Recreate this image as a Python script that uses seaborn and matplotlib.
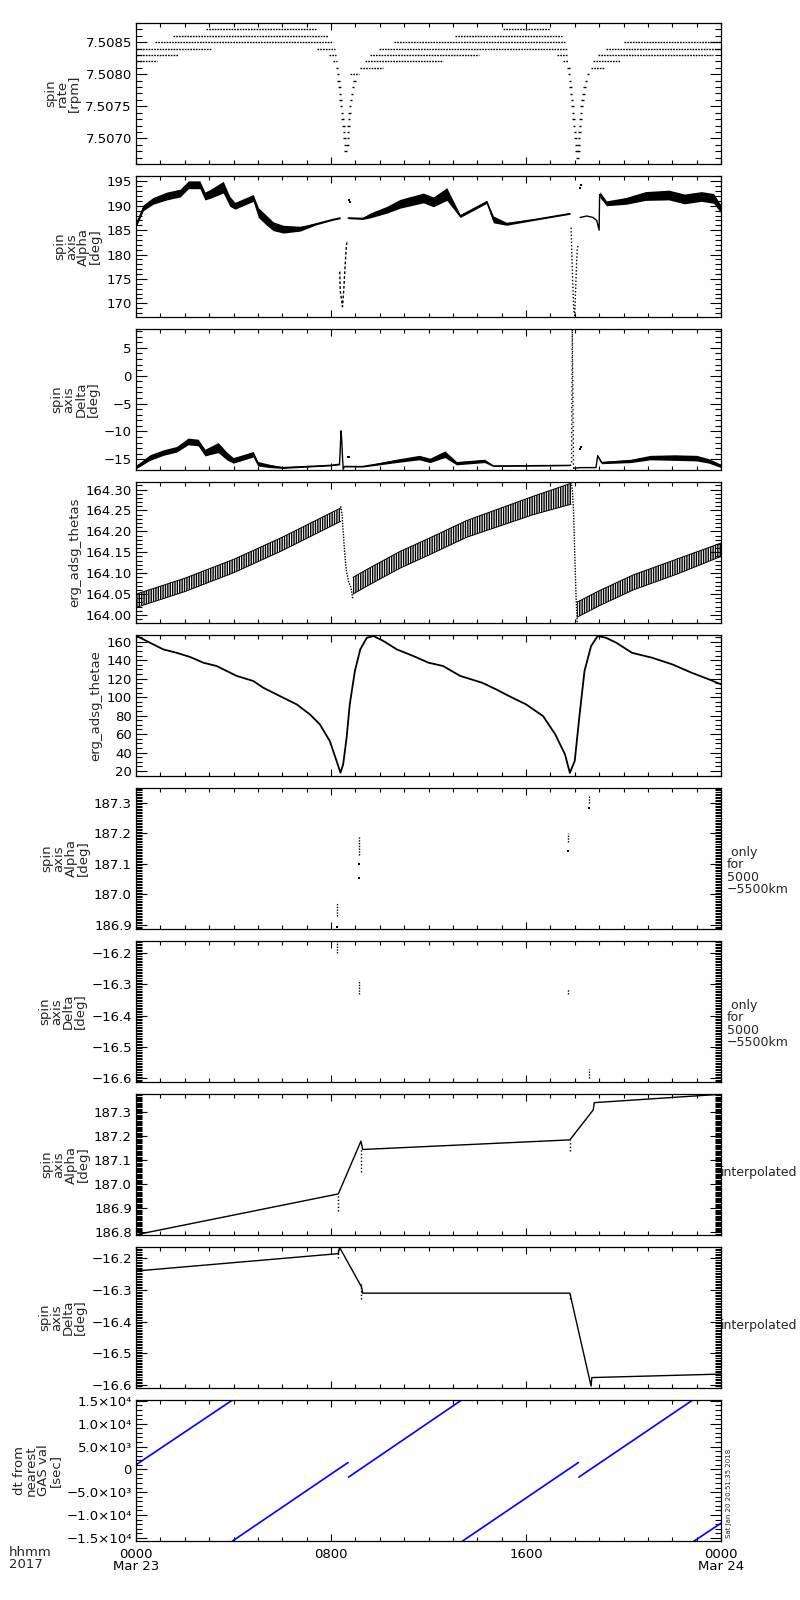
import numpy as np
import pandas as pd
import seaborn as sns
import matplotlib
matplotlib.use("Agg")
from matplotlib import pyplot as plt
from matplotlib.ticker import FixedLocator, MultipleLocator, FuncFormatter

# all times in hours since 2017-03-23 00:00 UT

### panel 1: spin rate [rpm], quantized levels
rate_lvl = [7.5087, 7.5086, 7.5085, 7.5084, 7.5084, 7.5083, 7.5083, 7.5082, 7.5082,
            7.5080, 7.5081, 7.5082, 7.5083, 7.5084, 7.5085, 7.5086, 7.5087, 7.5083, 7.5082,
            7.5081, 7.5082, 7.5083, 7.5084, 7.5085]
rate_t0 = [2.87, 1.53, 0.78, 0.03, 7.41, 0.03, 7.93, 0.03, 8.09,
           8.79, 9.19, 9.40, 9.60, 9.96, 10.6, 13.09, 15.07, 17.26, 17.50,
           18.67, 18.76, 18.97, 19.30, 20.0]
rate_t1 = [7.41, 7.89, 8.09, 3.06, 8.16, 1.74, 8.20, 0.85, 8.24,
           9.15, 10.14, 12.61, 14.07, 17.67, 17.60, 17.46, 16.99, 17.74, 17.74,
           19.20, 19.85, 23.68, 24.0, 24.0]
dip_lvl = [7.5081, 7.5080, 7.5079, 7.5078, 7.5077, 7.5076, 7.5075, 7.5074, 7.5073, 7.5072, 7.5071, 7.5070, 7.5069, 7.5068,
           7.5069, 7.5070, 7.5071, 7.5072, 7.5073, 7.5074, 7.5075, 7.5076, 7.5077, 7.5078, 7.5079,
           7.5081, 7.5080, 7.5079, 7.5078, 7.5077, 7.5076, 7.5075, 7.5074, 7.5073, 7.5072, 7.5071, 7.5070, 7.5069, 7.5068, 7.5067,
           7.5068, 7.5069, 7.5070, 7.5071, 7.5072, 7.5073, 7.5074, 7.5075, 7.5076, 7.5077, 7.5078, 7.5079, 7.5080]
dip_t = [8.24, 8.28, 8.31, 8.34, 8.37, 8.39, 8.42, 8.45, 8.48, 8.51, 8.53, 8.55, 8.57, 8.60,
         8.68, 8.69, 8.70, 8.71, 8.73, 8.75, 8.78, 8.82, 8.86, 8.90, 8.96,
         17.74, 17.77, 17.80, 17.83, 17.85, 17.88, 17.90, 17.93, 17.95, 17.98, 18.00, 18.03, 18.05, 18.08, 18.11,
         18.15, 18.16, 18.18, 18.19, 18.21, 18.23, 18.25, 18.28, 18.31, 18.35, 18.40, 18.47, 18.55]

### panel 2: spin axis alpha [deg]  (centre line + scatter half width)
a1_t = [0.0, 0.3, 0.7, 1.26, 1.81, 2.15, 2.62, 2.83, 3.03, 3.58, 3.85, 4.06, 4.81, 5.02, 5.36, 5.63, 6.04, 6.73, 7.4, 8.09, 8.37]
a1_v = [186.0, 189.6, 191.0, 192.0, 192.6, 194.3, 194.3, 192.0, 192.4, 193.8, 190.9, 190.0, 191.6, 188.6, 187.0, 185.8, 185.2, 185.3, 186.3, 187.2, 187.5]
a1_w = [0.4, 0.6, 0.7, 0.8, 0.8, 0.8, 0.8, 0.8, 0.9, 1.2, 1.0, 0.7, 0.7, 1.0, 1.0, 0.9, 0.8, 0.5, 0.2, 0.15, 0.15]
a2_t = [8.7, 9.3, 9.6, 10.3, 10.83, 11.79, 12.2, 12.75, 13.3, 14.39, 14.66, 15.2, 16.5, 17.8]
a2_v = [187.5, 187.4, 188.0, 189.2, 190.4, 191.6, 190.8, 192.4, 187.9, 190.8, 187.2, 186.3, 187.3, 188.4]
a2_w = [0.15, 0.2, 0.5, 0.7, 0.9, 1.0, 1.0, 1.3, 0.3, 0.3, 0.7, 0.3, 0.15, 0.15]
a3_t = [18.22, 18.5, 18.75, 18.9, 19.0, 19.02]
a3_v = [187.6, 187.9, 187.6, 187.0, 185.0, 192.3]
a4_t = [19.03, 19.3, 20.1, 20.9, 21.86, 22.5, 23.2, 23.7, 24.0]
a4_v = [192.3, 190.5, 191.0, 192.0, 192.2, 191.4, 191.9, 191.5, 189.3]
a4_w = [0.6, 0.5, 0.7, 0.9, 1.0, 1.0, 1.0, 1.0, 0.8]
adip1_t = [8.36, 8.38, 8.44, 8.47, 8.52, 8.57, 8.62, 8.65]
adip1_v = [176.5, 172.5, 170.5, 169.3, 172.5, 177.0, 181.0, 182.5]
adip2_t = [17.85, 17.88, 17.92, 17.96, 18.0, 18.05, 18.1, 18.15]
adip2_v = [185.5, 180.0, 174.0, 168.5, 167.5, 175.0, 181.0, 182.2]
ablip_t = [8.74, 8.78, 18.20, 18.24]
ablip_v = [191.2, 190.8, 193.6, 194.3]

### panel 3: spin axis delta [deg]
d1_t = [0.0, 0.57, 1.12, 1.67, 2.14, 2.55, 2.83, 3.37, 3.72, 3.99, 4.81, 5.0, 5.48, 6.02, 7.94, 8.35]
d1_v = [-16.4, -14.7, -13.8, -13.2, -11.8, -12.0, -13.8, -12.9, -14.4, -15.2, -14.1, -15.8, -16.2, -16.5, -16.1, -15.9]
d1_w = [0.3, 0.5, 0.5, 0.5, 0.6, 0.6, 0.6, 0.9, 0.7, 0.5, 0.5, 0.4, 0.3, 0.15, 0.1, 0.1]
dspk1_t = [8.35, 8.38, 8.41, 8.44, 8.47, 8.5, 8.55]
dspk1_v = [-15.9, -13.0, -9.9, -11.5, -14.5, -16.8, -16.3]
d2_t = [8.55, 9.3, 10.0, 10.67, 11.62, 12.06, 12.67, 13.15, 14.3, 14.66, 17.8]
d2_v = [-16.3, -16.3, -15.8, -15.3, -14.7, -15.2, -14.1, -15.7, -15.3, -16.2, -16.1]
d2_w = [0.05, 0.1, 0.2, 0.3, 0.4, 0.4, 0.6, 0.3, 0.3, 0.1, 0.05]
dspk2_t = [17.8, 17.87, 17.9, 17.95]
dspk2_v = [-16.1, -16.0, 8.3, -16.6]
d3_t = [17.95, 18.25, 18.87, 18.94]
d3_v = [-16.6, -16.5, -16.5, -14.4]
d4_t = [18.94, 19.1, 20.3, 21.1, 22.1, 23.0, 23.5, 24.0]
d4_v = [-14.4, -15.6, -15.3, -14.7, -14.7, -14.8, -15.3, -16.2]
d4_w = [0.2, 0.2, 0.3, 0.4, 0.5, 0.5, 0.4, 0.3]
dblip_t = [8.7, 8.75, 18.2, 18.24]
dblip_v = [-14.6, -14.6, -13.2, -12.8]

### panel 4: erg_adsg_thetas
th1_t = [0.0, 2.0, 4.0, 6.0, 8.4]
th1_c = [164.034, 164.072, 164.117, 164.170, 164.240]
th1_w = [0.016, 0.016, 0.016, 0.016, 0.016]
th2_t = [8.9, 9.5, 10.83, 12.0, 13.57, 16.3, 17.85]
th2_c = [164.07, 164.09, 164.132, 164.163, 164.206, 164.262, 164.29]
th2_w = [0.02, 0.02, 0.02, 0.02, 0.02, 0.022, 0.025]
th3_t = [18.1, 19.0, 20.4, 22.2, 24.0]
th3_c = [164.013, 164.04, 164.078, 164.116, 164.156]
th3_w = [0.018, 0.018, 0.018, 0.018, 0.016]
thd1_t = [8.4, 8.45, 8.5, 8.56, 8.62, 8.72, 8.82, 8.89]
thd1_v = [164.26, 164.24, 164.2, 164.15, 164.11, 164.08, 164.066, 164.04]
thd2_t = [17.85, 17.9, 17.95, 18.0, 18.05, 18.1]
thd2_v = [164.318, 164.30, 164.25, 164.146, 164.05, 163.982]

### panel 5: erg_adsg_thetae
te_t = [0.03, 0.57, 1.12, 1.67, 2.22, 2.76, 3.31, 3.72, 4.13, 4.81, 5.22, 5.9, 6.59, 7.13, 7.54, 7.95, 8.23, 8.39,
        8.5, 8.64, 8.77, 8.98, 9.2, 9.47, 9.74, 10.15, 10.7, 11.38, 12.0, 12.6, 13.3, 14.2, 14.77, 15.3, 16.0, 16.7,
        17.2, 17.6, 17.8, 18.0, 18.2, 18.4, 18.67, 18.94, 19.28, 19.7, 20.35, 21.17, 22.0, 22.8, 23.5, 24.0]
te_v = [166.2, 159, 151.7, 148, 143.5, 137.3, 133.7, 128.3, 123, 117.5, 110.2, 101.2, 92.2, 81.4, 70.6, 52.5, 30.8, 18.1,
        27.3, 56, 92.2, 128.3, 151.7, 164.3, 166.2, 160.8, 151.7, 144.5, 137.3, 133.7, 123, 115.6, 108.5, 101.2, 92.2, 79.5,
        59.7, 38, 18, 31, 81.4, 128.3, 155.3, 166.2, 164.3, 159, 148, 142.7, 135.5, 126.4, 119.3, 113.9]

### panels 6/7: alpha / delta only for 5000-5500 km (vertical clusters + single dots)
c6_t = [8.26, 9.16, 17.71, 18.6]
c6_lo = [186.93, 187.13, 187.17, 187.30]
c6_hi = [186.975, 187.19, 187.20, 187.325]
p6_t = [8.26, 9.16, 9.16, 17.71, 18.6]
p6_v = [186.893, 187.10, 187.054, 187.142, 187.284]
c7_t = [8.26, 9.16, 17.71, 18.6]
c7_lo = [-16.20, -16.33, -16.33, -16.60]
c7_hi = [-16.163, -16.285, -16.315, -16.57]

### panels 8/9: interpolated alpha / delta
i8_t = [0.0, 8.3, 9.23, 9.3, 17.8, 18.76, 18.8, 24.0]
i8_v = [186.79, 186.96, 187.18, 187.145, 187.185, 187.31, 187.34, 187.375]
c8_t = [8.3, 9.25, 17.8]
c8_lo = [186.89, 187.05, 187.14]
c8_hi = [186.96, 187.145, 187.185]
i9_t = [0.0, 8.3, 8.35, 9.25, 9.3, 17.8, 18.67, 18.7, 24.0]
i9_v = [-16.24, -16.185, -16.165, -16.29, -16.31, -16.31, -16.604, -16.577, -16.566]
c9_t = [8.3, 9.25, 17.8]
c9_lo = [-16.2, -16.33, -16.33]
c9_hi = [-16.17, -16.28, -16.31]

### panel 10: dt from nearest GAS val [sec]
gas_t0 = [0.0, 3.96, 8.72, 13.40, 18.17, 22.90]
gas_t1 = [3.96, 8.70, 13.36, 18.15, 22.84, 24.0]
gas_v0 = [1000, -15700, -1700, -15700, -1700, -15700]
gas_v1 = [15200, 1500, 15200, 1500, 15200, -11800]

xtick_pos = [0, 8, 16, 24]
xtick_lab = ["0000\nMar 23", "0800", "1600", "0000\nMar 24"]


sns.set_style("ticks")
plt.rcParams["font.family"] = ["DejaVu Sans"]
plt.rcParams["hatch.linewidth"] = 1.0

fig = plt.figure(figsize=(8, 16), dpi=100)

W, H = 800.0, 1600.0
axes = []
for i in range(10):
    top = 23 + 153 * i
    ax = fig.add_axes([136 / W, 1 - (top + 141) / H, 585 / W, 141 / H])
    axes.append(ax)


def trace(ax, t, v, **kw):
    kw.setdefault("color", "k")
    kw.setdefault("linewidth", 1.0)
    sns.lineplot(x=t, y=v, ax=ax, estimator=None, sort=False, legend=False, **kw)


def band(ax, t, c, w, **kw):
    c = np.array(c)
    w = np.array(w)
    ax.fill_between(t, c - w, c + w, **kw)


def minus(fmt):
    return FuncFormatter(lambda v, p: (fmt % v).replace("-", "\u2212"))


# panel 1
ax = axes[0]
ax.hlines(rate_lvl, rate_t0, rate_t1, colors="k", linewidth=1.0, linestyles=(0, (1.2, 0.8)))
ax.hlines(dip_lvl, np.array(dip_t) - 0.05, np.array(dip_t) + 0.05, colors="k", linewidth=1.0)

# panel 2
ax = axes[1]
band(ax, a1_t, a1_v, a1_w, color="k", linewidth=0)
band(ax, a2_t, a2_v, a2_w, color="k", linewidth=0)
band(ax, a4_t, a4_v, a4_w, color="k", linewidth=0)
trace(ax, a1_t, a1_v)
trace(ax, a2_t, a2_v)
trace(ax, a3_t, a3_v)
trace(ax, a4_t, a4_v)
trace(ax, adip1_t, adip1_v, linestyle=(0, (2, 1.5)))
trace(ax, adip2_t, adip2_v, linestyle=(0, (1, 1.5)))
sns.scatterplot(x=ablip_t, y=ablip_v, ax=ax, color="k", s=3, marker="s", linewidth=0)

# panel 3
ax = axes[2]
band(ax, d1_t, d1_v, d1_w, color="k", linewidth=0)
band(ax, d2_t, d2_v, d2_w, color="k", linewidth=0)
band(ax, d4_t, d4_v, d4_w, color="k", linewidth=0)
trace(ax, d1_t, d1_v)
trace(ax, dspk1_t, dspk1_v)
trace(ax, d2_t, d2_v)
trace(ax, dspk2_t, dspk2_v, linestyle=(0, (1, 2)))
trace(ax, d3_t, d3_v)
trace(ax, d4_t, d4_v)
sns.scatterplot(x=dblip_t, y=dblip_v, ax=ax, color="k", s=3, marker="s", linewidth=0)

# panel 4: dense vertical strokes inside the band
ax = axes[3]
for t, c, w in [(th1_t, th1_c, th1_w), (th2_t, th2_c, th2_w), (th3_t, th3_c, th3_w)]:
    band(ax, t, c, w, facecolor="none", edgecolor="k", hatch="|||||||", linewidth=0)
    trace(ax, t, np.array(c) - np.array(w), linewidth=0.7)
    trace(ax, t, np.array(c) + np.array(w), linewidth=0.7)
trace(ax, thd1_t, thd1_v, linestyle=(0, (1, 1)))
trace(ax, thd2_t, thd2_v, linestyle=(0, (1, 1)))

# panel 5
trace(axes[4], te_t, te_v, linewidth=1.3)

# panels 6-9
axes[5].vlines(c6_t, c6_lo, c6_hi, colors="k", linewidth=1.0, linestyles=(0, (1, 1)))
sns.scatterplot(x=p6_t, y=p6_v, ax=axes[5], color="k", s=2, marker="s", linewidth=0)
axes[6].vlines(c7_t, c7_lo, c7_hi, colors="k", linewidth=1.0, linestyles=(0, (1, 1)))
trace(axes[7], i8_t, i8_v)
axes[7].vlines(c8_t, c8_lo, c8_hi, colors="k", linewidth=1.0, linestyles=(0, (1, 1.5)))
trace(axes[8], i9_t, i9_v)
axes[8].vlines(c9_t, c9_lo, c9_hi, colors="k", linewidth=1.0, linestyles=(0, (1, 1.5)))

# panel 10
for t0, t1, v0, v1 in zip(gas_t0, gas_t1, gas_v0, gas_v1):
    trace(axes[9], [t0, t1], [v0, v1], color="#0000ff", linewidth=1.2)

# y axes setup: (limits, major ticks, minor step, format, label)
ycfg = [
    ((7.5066, 7.5088), [7.5070, 7.5075, 7.5080, 7.5085], 0.0001, "%.4f", "spin\nrate\n[rpm]"),
    ((167.2, 196.1), [170, 175, 180, 185, 190, 195], 1, "%d", "spin\naxis\nAlpha\n[deg]"),
    ((-16.93, 8.4), [-15, -10, -5, 0, 5], 1, "%d", "spin\naxis\nDelta\n[deg]"),
    ((163.981, 164.318), [164.00, 164.05, 164.10, 164.15, 164.20, 164.25, 164.30], 0.01, "%.2f", "erg_adsg_thetas"),
    ((14.6, 167.3), [20, 40, 60, 80, 100, 120, 140, 160], 5, "%d", "erg_adsg_thetae"),
    ((186.887, 187.348), [186.9, 187.0, 187.1, 187.2, 187.3], 0.005, "%.1f", "spin\naxis\nAlpha\n[deg]"),
    ((-16.612, -16.162), [-16.6, -16.5, -16.4, -16.3, -16.2], 0.005, "%.1f", "spin\naxis\nDelta\n[deg]"),
    ((186.789, 187.376), [186.8, 186.9, 187.0, 187.1, 187.2, 187.3], 0.005, "%.1f", "spin\naxis\nAlpha\n[deg]"),
    ((-16.61, -16.164), [-16.6, -16.5, -16.4, -16.3, -16.2], 0.005, "%.1f", "spin\naxis\nDelta\n[deg]"),
    ((-15700, 15200), [-15000, -10000, -5000, 0, 5000, 10000, 15000], 1000, None, "dt from\nnearest\nGAS val\n[sec]"),
]
gas_lab = ["\u22121.5\u00d710\u2074", "\u22121.0\u00d710\u2074", "\u22125.0\u00d710\u00b3", "0",
           "5.0\u00d710\u00b3", "1.0\u00d710\u2074", "1.5\u00d710\u2074"]

for i, ax in enumerate(axes):
    lim, maj, mnr, fmt, lab = ycfg[i]
    ax.set_xlim(0, 24)
    ax.set_ylim(*lim)
    ax.xaxis.set_major_locator(FixedLocator(xtick_pos))
    ax.xaxis.set_minor_locator(MultipleLocator(1))
    ax.yaxis.set_major_locator(FixedLocator(maj))
    ax.yaxis.set_minor_locator(MultipleLocator(mnr))
    if fmt is None:
        ax.set_yticklabels(gas_lab)
    else:
        ax.yaxis.set_major_formatter(minus(fmt))
    ax.tick_params(which="both", direction="in", top=True, right=True, width=0.8,
                   labelsize=9.5, colors="k")
    ax.tick_params(axis="y", which="major", length=8, pad=3)
    ax.tick_params(axis="y", which="minor", length=4)
    ax.tick_params(axis="x", which="major", length=5, pad=5)
    ax.tick_params(axis="x", which="minor", length=3)
    for s in ax.spines.values():
        s.set_linewidth(0.9)
        s.set_color("k")
    ax.set_ylabel(lab, fontsize=9.5, linespacing=0.9, labelpad=3, multialignment="center")
    ax.set_xlabel("")
    if i < 9:
        ax.set_xticklabels([])
    else:
        ax.set_xticklabels(xtick_lab)
        for t in ax.get_xticklabels():
            t.set_linespacing(0.9)

for ax in axes[5:7]:
    ax.text(1.01, 0.41, " only\nfor\n5000\n\u22125500km", transform=ax.transAxes,
            fontsize=9, ha="left", va="center", linespacing=0.95)
for ax in axes[7:9]:
    ax.text(1.0, 0.443, "interpolated", transform=ax.transAxes,
            fontsize=9, ha="left", va="center")

axes[9].text(1.008, 0.02, "Sat Jan 20 20:51:35 2018", transform=axes[9].transAxes,
             fontsize=5, rotation=90, ha="left", va="bottom")
fig.text(9 / W, 1 - 1546 / H, "hhmm\n2017", fontsize=9.5, ha="left", va="top", linespacing=0.9)

fig.savefig("out.png", dpi=100, facecolor="white")
